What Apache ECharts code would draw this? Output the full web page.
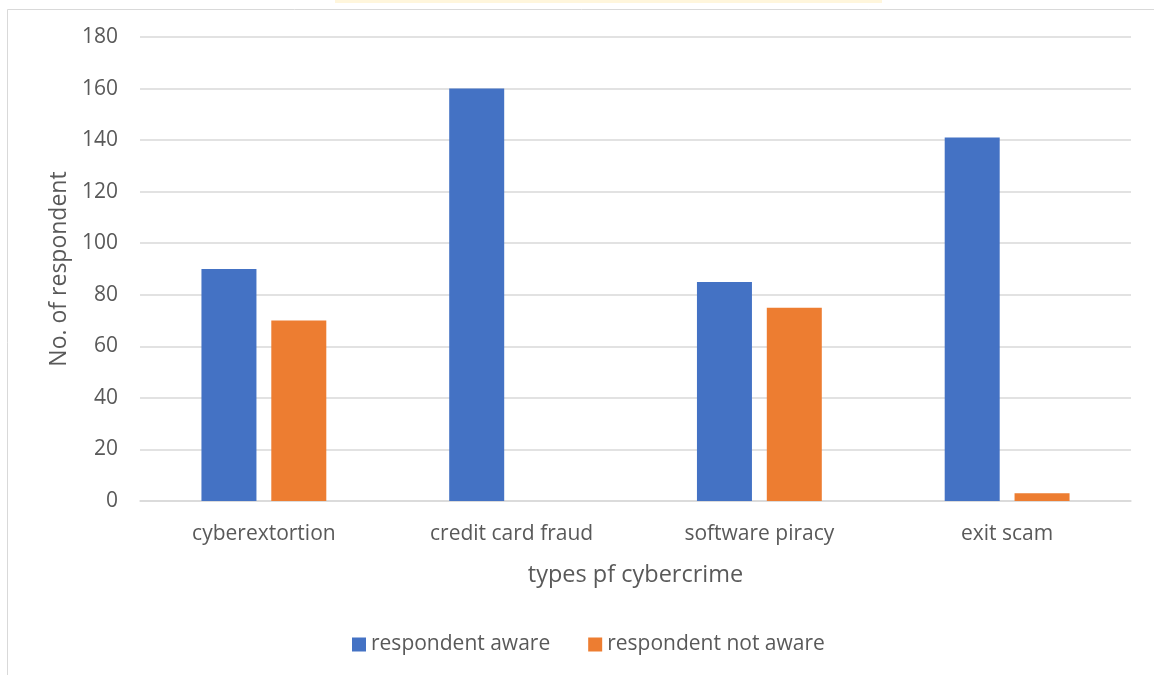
<!DOCTYPE html>
<html>
<head>
<meta charset="utf-8">
<script src="https://cdn.jsdelivr.net/npm/echarts@6/dist/echarts.min.js"></script>
<style>
  html, body { margin: 0; padding: 0; background: #fff; }
  #chart { width: 1154px; height: 675px; }
</style>
</head>
<body>
<div id="chart"></div>
<script>
const categories = ['cyberextortion', 'credit card fraud', 'software piracy', 'exit scam']
const awareValues = [90, 160, 85, 141]
const notAwareValues = [70, 0, 75, 3]

const textColor = '#595959'
const fontFamily = 'Open Sans, sans-serif'

const chart = echarts.init(document.getElementById('chart'))
chart.setOption({
  animation: false,
  backgroundColor: '#fff',
  graphic: [
    { // outer chart frame
      type: 'rect',
      shape: { x: 7.5, y: 9.5, width: 1160, height: 700 },
      style: { fill: 'none', stroke: '#d9d9d9', lineWidth: 1 },
      silent: true
    },
    { // faint strip at the top edge
      type: 'rect',
      shape: { x: 335, y: 0, width: 547, height: 3 },
      style: { fill: '#fff6dc' },
      silent: true
    }
  ],
  grid: { left: 140, right: 23, top: 37, bottom: 174 },
  legend: {
    top: 629,
    left: 347,
    itemWidth: 14,
    itemHeight: 14,
    itemGap: 38,
    icon: 'rect',
    textStyle: { color: textColor, fontSize: 21, fontFamily: fontFamily },
    data: ['respondent aware', 'respondent not aware']
  },
  xAxis: {
    type: 'category',
    data: categories,
    name: 'types pf cybercrime',
    nameLocation: 'middle',
    nameGap: 62,
    nameTextStyle: { color: textColor, fontSize: 23.5, fontFamily: fontFamily },
    axisLine: { lineStyle: { color: '#d9d9d9', width: 1.5 } },
    axisTick: { show: false },
    axisLabel: { color: textColor, fontSize: 21, fontFamily: fontFamily, margin: 23 }
  },
  yAxis: {
    type: 'value',
    min: 0,
    max: 180,
    interval: 20,
    name: 'No. of respondent',
    nameLocation: 'middle',
    nameGap: 68,
    nameTextStyle: { color: textColor, fontSize: 23, fontFamily: fontFamily },
    axisLine: { show: false },
    axisTick: { show: false },
    axisLabel: { color: textColor, fontSize: 21, fontFamily: fontFamily, margin: 22 },
    splitLine: { lineStyle: { color: '#d9d9d9', width: 1.5 } }
  },
  series: [
    {
      name: 'respondent aware',
      type: 'bar',
      data: awareValues,
      barWidth: 55,
      barGap: '27%',
      itemStyle: { color: '#4472c4' }
    },
    {
      name: 'respondent not aware',
      type: 'bar',
      data: notAwareValues,
      barWidth: 55,
      itemStyle: { color: '#ed7d31' }
    }
  ]
})
</script>
</body>
</html>
